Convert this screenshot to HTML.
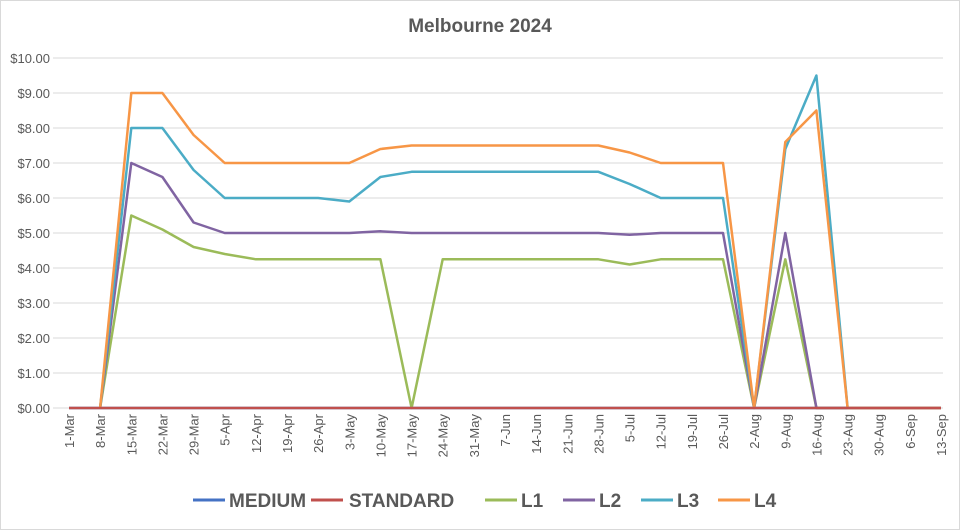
<!DOCTYPE html>
<html><head><meta charset="utf-8"><style>
html,body{margin:0;padding:0;background:#fff;}
svg{display:block;font-family:"Liberation Sans",Arial,sans-serif;}
</style></head><body>
<svg id="c" width="960" height="530" viewBox="0 0 960 530" xmlns="http://www.w3.org/2000/svg">
<rect x="0.5" y="0.5" width="959" height="529" fill="#fff" stroke="#d9d9d9"/>
<text x="480" y="32" text-anchor="middle" font-size="19" font-weight="bold" fill="#595959">Melbourne 2024</text>
<g id="grid"></g><g id="lines"></g><g id="labels"></g>
<g font-size="19" font-weight="bold" fill="#595959">
<line x1="193" y1="500" x2="225" y2="500" stroke="#4472C4" stroke-width="3"/><text x="229" y="507">MEDIUM</text>
<line x1="311" y1="500" x2="343" y2="500" stroke="#C0504D" stroke-width="3"/><text x="349" y="507">STANDARD</text>
<line x1="485" y1="500" x2="517" y2="500" stroke="#9BBB59" stroke-width="3"/><text x="521" y="507">L1</text>
<line x1="563" y1="500" x2="595" y2="500" stroke="#8064A2" stroke-width="3"/><text x="599" y="507">L2</text>
<line x1="641" y1="500" x2="673" y2="500" stroke="#4BACC6" stroke-width="3"/><text x="677" y="507">L3</text>
<line x1="718" y1="500" x2="750" y2="500" stroke="#F79646" stroke-width="3"/><text x="754" y="507">L4</text>
</g>
</svg>
<script>
var NS="http://www.w3.org/2000/svg";
function el(p,t,a,txt){var e=document.createElementNS(NS,t);for(var k in a)e.setAttribute(k,a[k]);if(txt!=null)e.textContent=txt;p.appendChild(e);return e;}
var g=document.getElementById('grid'),L=document.getElementById('lines'),lb=document.getElementById('labels');
function Y(v){return 408-35*v;}
function X(i){return 69+i*31.143;}
for(var v=0;v<=10;v++){
 el(g,'line',{x1:53,x2:943,y1:Y(v),y2:Y(v),stroke:'#d9d9d9','stroke-width':1});
 el(lb,'text',{x:50,y:Y(v)+5,'text-anchor':'end','font-size':13,fill:'#595959'},'$'+v+'.00');
}
var cats=['1-Mar','8-Mar','15-Mar','22-Mar','29-Mar','5-Apr','12-Apr','19-Apr','26-Apr','3-May','10-May','17-May','24-May','31-May','7-Jun','14-Jun','21-Jun','28-Jun','5-Jul','12-Jul','19-Jul','26-Jul','2-Aug','9-Aug','16-Aug','23-Aug','30-Aug','6-Sep','13-Sep'];
cats.forEach(function(c,i){var x=X(i);el(lb,'text',{x:0,y:0,'text-anchor':'end','font-size':13,fill:'#595959',transform:'translate('+(x+5)+',414) rotate(-90)'},c);});
var z=[0,0];
var l4=[0,0,9,9,7.8,7,7,7,7,7,7.4,7.5,7.5,7.5,7.5,7.5,7.5,7.5,7.3,7,7,7,0,7.6,8.5,0,0,0,0];
var l3=[0,0,8,8,6.8,6,6,6,6,5.9,6.6,6.75,6.75,6.75,6.75,6.75,6.75,6.75,6.4,6,6,6,0,7.4,9.5,0,0,0,0];
var l2=[0,0,7,6.6,5.3,5,5,5,5,5,5.05,5,5,5,5,5,5,5,4.95,5,5,5,0,5,0,0,0,0,0];
var l1=[0,0,5.5,5.1,4.6,4.4,4.25,4.25,4.25,4.25,4.25,0,4.25,4.25,4.25,4.25,4.25,4.25,4.1,4.25,4.25,4.25,0,4.25,0,0,0,0,0];
var zero=cats.map(function(){return 0;});
function line(d,col,start){var p=[];for(var i=start;i<d.length;i++)p.push(X(i).toFixed(1)+','+Y(d[i]).toFixed(1));el(L,'polyline',{points:p.join(' '),fill:'none',stroke:col,'stroke-width':2.5,'stroke-linejoin':'round'});}
line(zero,'#4472C4',0);
line(l1,'#9BBB59',1);line(l2,'#8064A2',1);line(l3,'#4BACC6',1);line(l4,'#F79646',1);
line(zero,'#C0504D',0);
</script>
</body></html>
